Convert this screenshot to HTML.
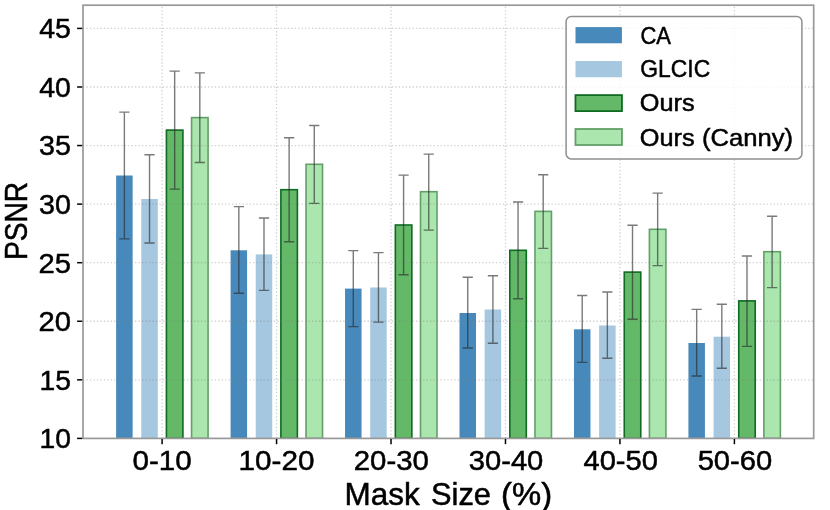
<!DOCTYPE html>
<html><head><meta charset="utf-8"><title>PSNR vs Mask Size</title>
<style>html,body{margin:0;padding:0;background:#fff;}svg{display:block;will-change:transform;}text{font-family:'Liberation Sans',sans-serif;fill:#000;}</style></head><body>
<svg width="830" height="510" viewBox="0 0 830 510">
<rect x="0" y="0" width="830" height="510" fill="#ffffff"/>
<defs><clipPath id="axclip"><rect x="83.0" y="5.2" width="730.70" height="433.20"/></clipPath></defs>
<g id="bars" clip-path="url(#axclip)">
<rect x="116.12" y="175.50" width="16.50" height="262.90" fill="#4789bb"/>
<rect x="141.28" y="199.00" width="16.50" height="239.40" fill="#a5c7e0"/>
<rect x="166.42" y="130.10" width="16.50" height="308.30" fill="#63b967" stroke="#0f6a22" stroke-width="1.6"/>
<rect x="191.57" y="117.60" width="16.50" height="320.80" fill="#aae6ad" stroke="#639f68" stroke-width="1.6"/>
<rect x="230.59" y="250.30" width="16.50" height="188.10" fill="#4789bb"/>
<rect x="255.74" y="254.40" width="16.50" height="184.00" fill="#a5c7e0"/>
<rect x="280.88" y="189.70" width="16.50" height="248.70" fill="#63b967" stroke="#0f6a22" stroke-width="1.6"/>
<rect x="306.03" y="164.30" width="16.50" height="274.10" fill="#aae6ad" stroke="#639f68" stroke-width="1.6"/>
<rect x="345.04" y="288.60" width="16.50" height="149.80" fill="#4789bb"/>
<rect x="370.19" y="287.50" width="16.50" height="150.90" fill="#a5c7e0"/>
<rect x="395.34" y="225.00" width="16.50" height="213.40" fill="#63b967" stroke="#0f6a22" stroke-width="1.6"/>
<rect x="420.50" y="191.70" width="16.50" height="246.70" fill="#aae6ad" stroke="#639f68" stroke-width="1.6"/>
<rect x="459.50" y="313.00" width="16.50" height="125.40" fill="#4789bb"/>
<rect x="484.66" y="309.50" width="16.50" height="128.90" fill="#a5c7e0"/>
<rect x="509.81" y="250.30" width="16.50" height="188.10" fill="#63b967" stroke="#0f6a22" stroke-width="1.6"/>
<rect x="534.96" y="211.40" width="16.50" height="227.00" fill="#aae6ad" stroke="#639f68" stroke-width="1.6"/>
<rect x="573.96" y="329.30" width="16.50" height="109.10" fill="#4789bb"/>
<rect x="599.11" y="325.50" width="16.50" height="112.90" fill="#a5c7e0"/>
<rect x="624.26" y="272.10" width="16.50" height="166.30" fill="#63b967" stroke="#0f6a22" stroke-width="1.6"/>
<rect x="649.41" y="229.30" width="16.50" height="209.10" fill="#aae6ad" stroke="#639f68" stroke-width="1.6"/>
<rect x="688.42" y="343.00" width="16.50" height="95.40" fill="#4789bb"/>
<rect x="713.57" y="336.70" width="16.50" height="101.70" fill="#a5c7e0"/>
<rect x="738.73" y="300.90" width="16.50" height="137.50" fill="#63b967" stroke="#0f6a22" stroke-width="1.6"/>
<rect x="763.88" y="251.70" width="16.50" height="186.70" fill="#aae6ad" stroke="#639f68" stroke-width="1.6"/>
</g>
<g id="grid" stroke="rgba(128,128,128,0.37)" stroke-width="1.3" stroke-dasharray="1.3 2.17" fill="none">
<line x1="83.0" y1="379.83" x2="813.7" y2="379.83"/>
<line x1="83.0" y1="321.26" x2="813.7" y2="321.26"/>
<line x1="83.0" y1="262.69" x2="813.7" y2="262.69"/>
<line x1="83.0" y1="204.12" x2="813.7" y2="204.12"/>
<line x1="83.0" y1="145.55" x2="813.7" y2="145.55"/>
<line x1="83.0" y1="86.98" x2="813.7" y2="86.98"/>
<line x1="83.0" y1="28.41" x2="813.7" y2="28.41"/>
<line x1="162.10" y1="438.4" x2="162.10" y2="5.2"/>
<line x1="276.56" y1="438.4" x2="276.56" y2="5.2"/>
<line x1="391.02" y1="438.4" x2="391.02" y2="5.2"/>
<line x1="505.48" y1="438.4" x2="505.48" y2="5.2"/>
<line x1="619.94" y1="438.4" x2="619.94" y2="5.2"/>
<line x1="734.40" y1="438.4" x2="734.40" y2="5.2"/>
</g>
<g id="err" stroke="rgba(40,40,40,0.62)" stroke-width="1.4" fill="none">
<path d="M124.38 112.10V238.90M119.28 112.10H129.47M119.28 238.90H129.47"/>
<path d="M149.53 154.70V243.00M144.43 154.70H154.62M144.43 243.00H154.62"/>
<path d="M174.67 71.10V189.10M169.57 71.10H179.77M169.57 189.10H179.77"/>
<path d="M199.82 72.90V162.50M194.72 72.90H204.92M194.72 162.50H204.92"/>
<path d="M238.84 206.60V293.20M233.74 206.60H243.94M233.74 293.20H243.94"/>
<path d="M263.99 218.00V290.40M258.88 218.00H269.09M258.88 290.40H269.09"/>
<path d="M289.13 137.80V241.80M284.03 137.80H294.24M284.03 241.80H294.24"/>
<path d="M314.28 125.50V203.40M309.18 125.50H319.38M309.18 203.40H319.38"/>
<path d="M353.29 250.60V326.60M348.19 250.60H358.39M348.19 326.60H358.39"/>
<path d="M378.44 252.60V322.10M373.34 252.60H383.55M373.34 322.10H383.55"/>
<path d="M403.59 175.10V274.80M398.49 175.10H408.69M398.49 274.80H408.69"/>
<path d="M428.75 154.10V230.10M423.64 154.10H433.85M423.64 230.10H433.85"/>
<path d="M467.75 277.30V348.00M462.65 277.30H472.86M462.65 348.00H472.86"/>
<path d="M492.91 275.70V343.30M487.81 275.70H498.01M487.81 343.30H498.01"/>
<path d="M518.06 202.00V298.70M512.96 202.00H523.16M512.96 298.70H523.16"/>
<path d="M543.21 174.80V248.40M538.11 174.80H548.31M538.11 248.40H548.31"/>
<path d="M582.21 295.50V362.40M577.11 295.50H587.31M577.11 362.40H587.31"/>
<path d="M607.36 292.00V358.30M602.26 292.00H612.46M602.26 358.30H612.46"/>
<path d="M632.51 225.20V319.20M627.41 225.20H637.62M627.41 319.20H637.62"/>
<path d="M657.66 193.10V265.60M652.56 193.10H662.76M652.56 265.60H662.76"/>
<path d="M696.67 309.40V376.00M691.57 309.40H701.77M691.57 376.00H701.77"/>
<path d="M721.82 304.20V368.30M716.72 304.20H726.92M716.72 368.30H726.92"/>
<path d="M746.98 256.00V346.40M741.88 256.00H752.08M741.88 346.40H752.08"/>
<path d="M772.12 216.20V287.60M767.02 216.20H777.23M767.02 287.60H777.23"/>
</g>
<rect x="83.0" y="5.2" width="730.70" height="433.20" fill="none" stroke="#999999" stroke-width="1.7"/>
<g id="ticks" stroke="#000" stroke-width="1.5">
<line x1="82.20" y1="438.40" x2="77.10" y2="438.40"/>
<line x1="82.20" y1="379.83" x2="77.10" y2="379.83"/>
<line x1="82.20" y1="321.26" x2="77.10" y2="321.26"/>
<line x1="82.20" y1="262.69" x2="77.10" y2="262.69"/>
<line x1="82.20" y1="204.12" x2="77.10" y2="204.12"/>
<line x1="82.20" y1="145.55" x2="77.10" y2="145.55"/>
<line x1="82.20" y1="86.98" x2="77.10" y2="86.98"/>
<line x1="82.20" y1="28.41" x2="77.10" y2="28.41"/>
<line x1="162.10" y1="439.00" x2="162.10" y2="444.20"/>
<line x1="276.56" y1="439.00" x2="276.56" y2="444.20"/>
<line x1="391.02" y1="439.00" x2="391.02" y2="444.20"/>
<line x1="505.48" y1="439.00" x2="505.48" y2="444.20"/>
<line x1="619.94" y1="439.00" x2="619.94" y2="444.20"/>
<line x1="734.40" y1="439.00" x2="734.40" y2="444.20"/>
</g>
<rect x="566.1" y="16.4" width="235.80" height="142.50" rx="5.2" ry="5.2" fill="rgba(255,255,255,0.8)" stroke="#8f8f8f" stroke-width="1.5"/>
<rect x="575.5" y="27.10" width="46.4" height="16.2" fill="#4789bb"/>
<rect x="575.5" y="61.05" width="46.4" height="16.2" fill="#a5c7e0"/>
<rect x="575.45" y="95.10" width="46.5" height="16" fill="#63b967" stroke="#0f6a22" stroke-width="1.8"/>
<rect x="575.45" y="129.00" width="46.5" height="16" fill="#aae6ad" stroke="#639f68" stroke-width="1.8"/>
<g id="labels" stroke="#000" stroke-width="0.5">
<text x="39.48" y="448.30" textLength="31.43" lengthAdjust="spacingAndGlyphs" style="font-size:28.0px">10</text>
<text x="39.48" y="389.73" textLength="31.43" lengthAdjust="spacingAndGlyphs" style="font-size:28.0px">15</text>
<text x="38.50" y="331.16" textLength="32.45" lengthAdjust="spacingAndGlyphs" style="font-size:28.0px">20</text>
<text x="38.50" y="272.59" textLength="32.45" lengthAdjust="spacingAndGlyphs" style="font-size:28.0px">25</text>
<text x="39.03" y="214.02" textLength="31.90" lengthAdjust="spacingAndGlyphs" style="font-size:28.0px">30</text>
<text x="39.03" y="155.45" textLength="31.90" lengthAdjust="spacingAndGlyphs" style="font-size:28.0px">35</text>
<text x="39.29" y="96.88" textLength="31.63" lengthAdjust="spacingAndGlyphs" style="font-size:28.0px">40</text>
<text x="39.29" y="38.31" textLength="31.63" lengthAdjust="spacingAndGlyphs" style="font-size:28.0px">45</text>
<text x="132.51" y="470.00" textLength="59.23" lengthAdjust="spacingAndGlyphs" style="font-size:28.0px">0-10</text>
<text x="238.49" y="470.00" textLength="75.95" lengthAdjust="spacingAndGlyphs" style="font-size:28.0px">10-20</text>
<text x="353.76" y="470.00" textLength="75.13" lengthAdjust="spacingAndGlyphs" style="font-size:28.0px">20-30</text>
<text x="468.75" y="470.00" textLength="74.59" lengthAdjust="spacingAndGlyphs" style="font-size:28.0px">30-40</text>
<text x="583.47" y="470.00" textLength="74.33" lengthAdjust="spacingAndGlyphs" style="font-size:28.0px">40-50</text>
<text x="697.67" y="470.00" textLength="74.59" lengthAdjust="spacingAndGlyphs" style="font-size:28.0px">50-60</text>
<text x="640.40" y="43.50" textLength="30.48" lengthAdjust="spacingAndGlyphs" style="font-size:24.4px">CA</text>
<text x="640.36" y="76.60" textLength="69.78" lengthAdjust="spacingAndGlyphs" style="font-size:24.4px">GLCIC</text>
<text x="639.76" y="111.30" textLength="54.87" lengthAdjust="spacingAndGlyphs" style="font-size:24.4px">Ours</text>
<text y="145.60" style="font-size:24.4px"><tspan x="639.76" textLength="54.87" lengthAdjust="spacingAndGlyphs">Ours</tspan> <tspan x="701.99" textLength="91.13" lengthAdjust="spacingAndGlyphs">(Canny)</tspan></text>
<text y="504.80" style="font-size:30.5px"><tspan x="344.58" textLength="75.24" lengthAdjust="spacingAndGlyphs">Mask</tspan> <tspan x="431.09" textLength="59.91" lengthAdjust="spacingAndGlyphs">Size</tspan> <tspan x="501.01" textLength="51.10" lengthAdjust="spacingAndGlyphs">(%)</tspan></text>
<text transform="translate(26.60,257.90) rotate(-90)" x="-2.04" y="0" textLength="78.07" lengthAdjust="spacingAndGlyphs" style="font-size:31.0px">PSNR</text>
</g>
</svg></body></html>
